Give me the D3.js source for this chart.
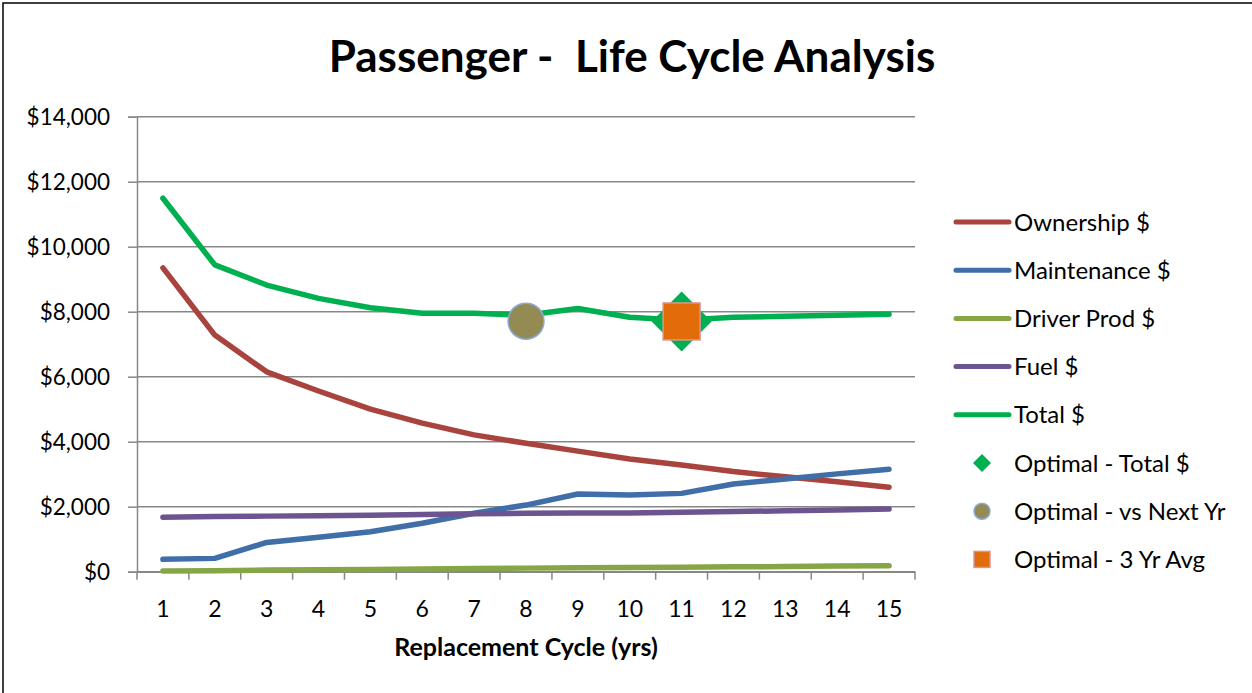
<!DOCTYPE html>
<html lang=en>
<meta charset=utf-8>
<title>Passenger - Life Cycle Analysis</title>
<style>
  body { margin: 0; background: #fff; }
  svg text { font-family: Lato, "Open Sans", sans-serif; fill: #000; white-space: pre; }
</style>
<svg id=chart width=1252 height=693></svg>
<script src="https://cdnjs.cloudflare.com/ajax/libs/d3/7.8.5/d3.min.js"></script>
<script>
// chart data
var years = [1, 2, 3, 4, 5, 6, 7, 8, 9, 10, 11, 12, 13, 14, 15];
var ownership = [9350, 7280, 6150, 5560, 5000, 4570, 4210, 3950, 3710, 3470, 3280, 3080, 2920, 2770, 2600];
var maintenance = [380, 410, 900, 1060, 1230, 1490, 1800, 2050, 2390, 2360, 2410, 2700, 2850, 3010, 3150];
var driverProd = [20, 30, 50, 60, 70, 80, 95, 110, 120, 130, 140, 150, 160, 175, 185];
var fuel = [1675, 1700, 1710, 1725, 1740, 1760, 1780, 1800, 1805, 1810, 1830, 1850, 1875, 1900, 1930];
var total = [11490, 9440, 8820, 8410, 8120, 7950, 7950, 7890, 8100, 7830, 7740, 7830, 7860, 7890, 7920];
var yTicks = [0, 2000, 4000, 6000, 8000, 10000, 12000, 14000];

// optimal markers: [year, value]
var optTotal = [11, 7700];
var optNextYr = [8, 7710];
var opt3Yr = [11, 7700];

var series = [
  {name: "Ownership $", values: ownership, color: "#a9433d"},
  {name: "Maintenance $", values: maintenance, color: "#3f6ea9"},
  {name: "Driver Prod $", values: driverProd, color: "#86a646"},
  {name: "Fuel $", values: fuel, color: "#6c5490"},
  {name: "Total $", values: total, color: "#00b050"}
];

var svg = d3.select("#chart");

// outer frame
svg.append("rect")
    .attr("x", 3).attr("y", 3)
    .attr("width", 1260).attr("height", 700)
    .attr("fill", "none").attr("stroke", "#000").attr("stroke-width", 1.5);

var plotL = 137, plotR = 915, plotT = 116.7, plotB = 571.7;

var x = d3.scaleBand().domain(years).range([plotL, plotR]);
var y = d3.scaleLinear().domain([0, 14000]).range([plotB, plotT]);
var cx = function (d) { return x(d) + x.bandwidth() / 2; };

// title
svg.append("text")
    .attr("x", 632).attr("y", 72)
    .attr("text-anchor", "middle")
    .attr("font-size", 44).attr("font-weight", "bold")
    .text("Passenger -  Life Cycle Analysis");

// gridlines
svg.append("g").selectAll("line").data(yTicks).enter().append("line")
    .attr("x1", plotL).attr("x2", plotR)
    .attr("y1", function (d) { return y(d); })
    .attr("y2", function (d) { return y(d); })
    .attr("stroke", "#878787").attr("stroke-width", 1.5);

// y axis
var yAxis = svg.append("g")
    .attr("transform", "translate(" + plotL + ",0)")
    .call(d3.axisLeft(y).tickValues(yTicks).tickSize(9).tickPadding(18)
        .tickFormat(function (d) { return "$" + d3.format(",")(d); }));
yAxis.selectAll("text").attr("font-size", 22.5).attr("dy", "0.36em");

// x axis
var xAxis = svg.append("g")
    .attr("transform", "translate(0," + plotB + ")")
    .call(d3.axisBottom(x).tickSize(0));
xAxis.selectAll("text").attr("font-size", 23).attr("y", 45).attr("dy", 0);
// tick marks at category boundaries
xAxis.selectAll(".bound").data(years.concat([16])).enter().append("line")
    .attr("class", "bound")
    .attr("x1", function (d) { return d > 15 ? plotR : x(d); })
    .attr("x2", function (d) { return d > 15 ? plotR : x(d); })
    .attr("y1", 0).attr("y2", 8)
    .attr("stroke", "#878787").attr("stroke-width", 1.5);

svg.selectAll(".domain").attr("stroke", "#878787").attr("stroke-width", 1.5);
svg.selectAll(".tick line").attr("stroke", "#878787").attr("stroke-width", 1.5);

svg.append("text")
    .attr("x", 526).attr("y", 656)
    .attr("text-anchor", "middle")
    .attr("font-size", 25).attr("font-weight", "bold")
    .text("Replacement Cycle (yrs)");

// series lines
var line = d3.line()
    .x(function (d, i) { return cx(years[i]); })
    .y(function (d) { return y(d); });

svg.append("g").selectAll("path").data(series).enter().append("path")
    .attr("d", function (s) { return line(s.values); })
    .attr("fill", "none")
    .attr("stroke", function (s) { return s.color; })
    .attr("stroke-width", 5.5)
    .attr("stroke-linecap", "round")
    .attr("stroke-linejoin", "round");

// optimal markers
function drawDiamond(g, px, py, half) {
  g.append("path")
      .attr("d", "M" + px + "," + (py - half) + "L" + (px + half) + "," + py +
          "L" + px + "," + (py + half) + "L" + (px - half) + "," + py + "Z")
      .attr("fill", "#00b050");
}
function drawCircle(g, px, py, r) {
  g.append("circle").attr("cx", px).attr("cy", py).attr("r", r)
      .attr("fill", "#948a54").attr("stroke", "#8eaad8").attr("stroke-width", 1.5);
}
function drawSquare(g, px, py, half) {
  g.append("rect").attr("x", px - half).attr("y", py - half)
      .attr("width", half * 2).attr("height", half * 2)
      .attr("fill", "#e36c0a").attr("stroke", "#d99694").attr("stroke-width", 1.5);
}

var marks = svg.append("g");
drawDiamond(marks, cx(optTotal[0]), y(optTotal[1]), 30);
drawCircle(marks, cx(optNextYr[0]), y(optNextYr[1]), 18);
drawSquare(marks, cx(opt3Yr[0]), y(opt3Yr[1]), 18.5);

// legend
var legend = svg.append("g");
var rowY = function (i) { return 222 + i * 48.2; };
series.forEach(function (s, i) {
  legend.append("line")
      .attr("x1", 956).attr("x2", 1009)
      .attr("y1", rowY(i)).attr("y2", rowY(i))
      .attr("stroke", s.color).attr("stroke-width", 5)
      .attr("stroke-linecap", "round");
  legend.append("text")
      .attr("x", 1014).attr("y", rowY(i)).attr("dy", "0.36em")
      .attr("font-size", 24)
      .text(s.name);
});
var markLabels = ["Optimal - Total $", "Optimal - vs Next Yr", "Optimal - 3 Yr Avg"];
drawDiamond(legend, 982, rowY(5), 9);
drawCircle(legend, 982, rowY(6), 8);
drawSquare(legend, 982, rowY(7), 8);
markLabels.forEach(function (t, i) {
  legend.append("text")
      .attr("x", 1014).attr("y", rowY(i + 5)).attr("dy", "0.36em")
      .attr("font-size", 24)
      .text(t);
});
</script>
